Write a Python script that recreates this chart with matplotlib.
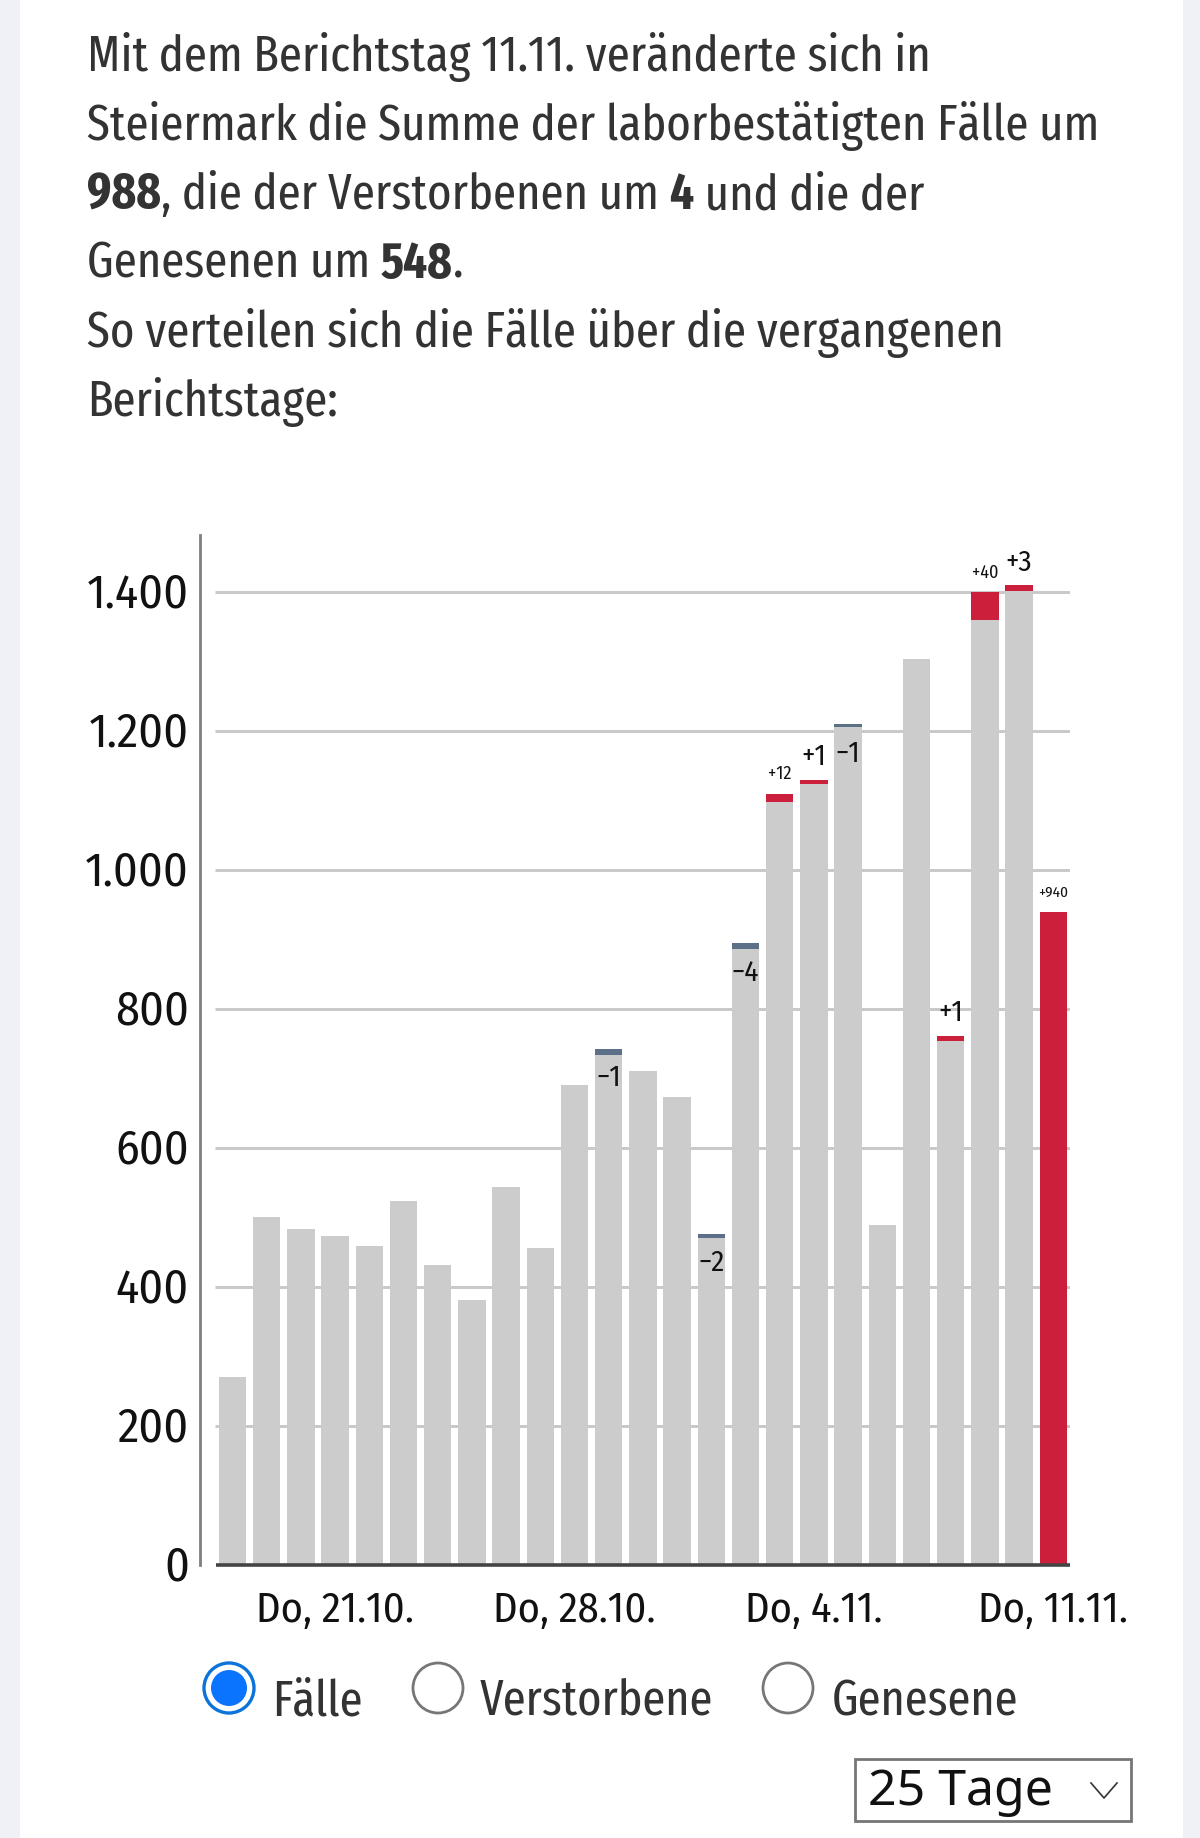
import matplotlib
matplotlib.use("Agg")
import matplotlib.pyplot as plt
from matplotlib.patches import Circle, Rectangle
from matplotlib.transforms import ScaledTranslation
import numpy as np

FONT = ["Fira Sans Condensed", "Liberation Sans Narrow", "DejaVu Sans"]
NARROW = ["Fira Sans Extra Condensed", "Liberation Sans Narrow", "DejaVu Sans"]
plt.rcParams["font.family"] = FONT

# bar values, 25 reporting days
gray = [271, 501, 484, 474, 460, 524, 432, 382, 544, 457, 691, 734, 711, 674, 471,
        887, 1098, 1124, 1206, 489, 1304, 754, 1360, 1402, 0]
red = [0, 0, 0, 0, 0, 0, 0, 0, 0, 0, 0, 0, 0, 0, 0,
       0, 12, 6, 0, 0, 0, 8, 40, 8, 940]
blue = [0, 0, 0, 0, 0, 0, 0, 0, 0, 0, 0, 9, 0, 0, 6,
        8, 0, 0, 4, 0, 0, 0, 0, 0, 0]

# labels over/in the bars: bar index, text, font size
up_labels = [(16, "+12", 13), (17, "+1", 21), (21, "+1", 21), (22, "+40", 13), (23, "+3", 21), (24, "+940", 11)]
down_labels = [(11, "\u22121"), (14, "\u22122"), (15, "\u22124"), (18, "\u22121")]

y_ticks = [0, 200, 400, 600, 800, 1000, 1200, 1400]
y_labels = ["0", "200", "400", "600", "800", "1.000", "1.200", "1.400"]
x_ticks = [3, 10, 17, 24]
x_labels = ["Do, 21.10.", "Do, 28.10.", "Do, 4.11.", "Do, 11.11."]

paragraph = [
    [("Mit dem Berichtstag 11.11. veränderte sich in", False)],
    [("Steiermark die Summe der laborbestätigten Fälle um", False)],
    [("988", True), (", die der Verstorbenen um ", False), ("4", True), (" und die der", False)],
    [("Genesenen um ", False), ("548", True), (".", False)],
    [("So verteilen sich die Fälle über die vergangenen", False)],
    [("Berichtstage:", False)],
]

GRAY = "#cccccc"
RED = "#cc1f3c"
BLUE = "#5c7088"
TEXT = "#333333"
INK = "#111111"

W, H = 1200, 1838
fig = plt.figure(figsize=(W / 100, H / 100), dpi=100, facecolor="#eff1f6")

# page layer in pixel coordinates
page = fig.add_axes([0, 0, 1, 1], zorder=0)
page.set_xlim(0, W)
page.set_ylim(H, 0)
page.axis("off")
page.add_patch(Rectangle((20, 0), 1163, H, fc="white", ec="none"))


def draw_runs(x, y, runs, size):
    r = fig.canvas.get_renderer()
    for txt, bold in runs:
        t = page.text(x, y, txt, fontsize=size, color=TEXT, va="baseline", ha="left", family=NARROW,
                      fontweight="bold" if bold else "normal")
        x = x + t.get_window_extent(r).width


for n, runs in enumerate(paragraph):
    draw_runs(87, 71 + n * 69, runs, 36.6)

# chart
pitch = 34.2
first = 232.5
y0 = 1565.3
per_unit = 0.695
left, right, top = 200, 1070, 535
ax = fig.add_axes([left / W, 1 - y0 / H, (right - left) / W, (y0 - top) / H], zorder=1)
ax.patch.set_alpha(0)
ax.set_xlim((left - first) / pitch, (right - first) / pitch)
ax.set_ylim(0, (y0 - top) / per_unit)

x = np.arange(len(gray))
gray = np.array(gray)
red = np.array(red)
blue = np.array(blue)
ax.hlines(y_ticks[1:], (215 - first) / pitch, (right - first) / pitch, color="#c8c8c8", lw=2.1, zorder=1)
ax.bar(x, gray, width=0.8, color=GRAY, zorder=2)
ax.bar(x, red, width=0.8, bottom=gray, color=RED, zorder=2)
ax.bar(x, blue, width=0.8, bottom=gray, color=BLUE, zorder=2)
ax.hlines(0, (216 - first) / pitch, (right - first) / pitch, color="#444444", lw=2.6, zorder=3, clip_on=False)

totals = gray + red + blue
for i, label, size in up_labels:
    ax.annotate(label, (i, totals[i]), xytext=(0, 10.5), textcoords="offset points",
                ha="center", va="baseline", fontsize=size, color=INK, zorder=4)
for i, label in down_labels:
    ax.annotate(label, (i, totals[i]), xytext=(0, -27), textcoords="offset points",
                ha="center", va="baseline", fontsize=21, color=INK, zorder=4)

ax.set_yticks(y_ticks)
ax.set_yticklabels(y_labels, fontsize=34.5, color=INK)
ax.set_xticks(x_ticks)
ax.set_xticklabels(x_labels, fontsize=30.5, color=INK)
ax.tick_params(axis="y", length=0, pad=8)
ax.tick_params(axis="x", length=0, pad=18)
up = ScaledTranslation(0, 1.8 / 72, fig.dpi_scale_trans)
for tl in ax.get_yticklabels():
    tl.set_transform(tl.get_transform() + up)
for side in ["top", "right", "bottom"]:
    ax.spines[side].set_visible(False)
ax.spines["left"].set_color("#7f7f7f")
ax.spines["left"].set_linewidth(2)

# radio buttons
radio_y = 1688
page.add_patch(Circle((229, radio_y), 25, fc="white", ec="#0a74da", lw=2.4))
page.add_patch(Circle((229, radio_y), 18, fc="#0a74ff", ec="none"))
page.add_patch(Circle((438, radio_y), 25, fc="white", ec="#767676", lw=2))
page.add_patch(Circle((788, radio_y), 25, fc="white", ec="#767676", lw=2))
for rx, name in [(272, "Fälle"), (480, "Verstorbene"), (832, "Genesene")]:
    page.text(rx, 1715, name, fontsize=36.3, color=TEXT, va="baseline", ha="left", family=NARROW)

# select box
page.add_patch(Rectangle((855, 1759), 276, 62, fc="white", ec="#767676", lw=2))
page.text(868, 1805, "25 Tage", fontsize=36, color=INK, va="baseline", ha="left", family=["Noto Sans", "DejaVu Sans"])
page.plot([1091, 1104, 1117], [1783, 1798, 1783], color="#333333", lw=1.2)

fig.savefig("out.png", dpi=100, facecolor=fig.get_facecolor())
